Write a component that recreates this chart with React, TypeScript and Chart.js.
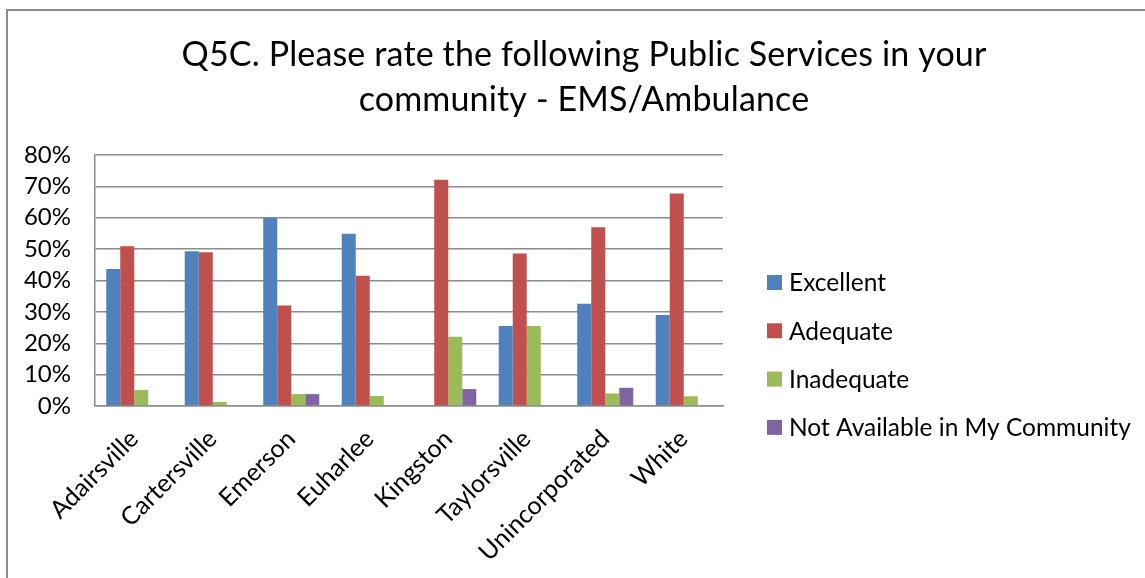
import React, { useEffect, useRef } from "react";
import { Chart, registerables } from "chart.js";

Chart.register(...registerables);

const FONT = "Lato, 'Open Sans', sans-serif";

const categories = [
  "Adairsville",
  "Cartersville",
  "Emerson",
  "Euharlee",
  "Kingston",
  "Taylorsville",
  "Unincorporated",
  "White",
];
const seriesNames = ["Excellent", "Adequate", "Inadequate", "Not Available in My Community"];
const excellent = [43.7, 49.3, 59.9, 54.9, 0, 25.5, 32.6, 29.0];
const adequate = [50.9, 49.0, 32.0, 41.5, 72.1, 48.6, 57.0, 67.7];
const inadequate = [5.1, 1.3, 3.8, 3.2, 22.1, 25.5, 4.0, 3.1];
const notAvailable = [0, 0, 3.8, 0, 5.4, 0, 5.8, 0];
const seriesColors = ["#4F81BD", "#C0504D", "#9BBB59", "#8064A2"];
const yMax = 80;
const yStep = 10;
const titleLines = [
  "Q5C. Please rate the following Public Services in your",
  "community - EMS/Ambulance",
];

const sideTitle = {
  id: "sideTitle",
  afterDraw(_chart: any, _args: any, opts: any) {
    const ctx = _chart.ctx;
    ctx.save();
    ctx.font = `${opts.size}px ${FONT}`;
    ctx.fillStyle = "#000";
    ctx.textAlign = "center";
    ctx.textBaseline = "middle";
    (ctx as any).letterSpacing = opts.spacing;
    opts.lines.forEach((line: string, i: number) => {
      ctx.fillText(line, opts.x, opts.top + i * opts.lineGap);
    });
    ctx.restore();
  },
};

const sideLegend = {
  id: "sideLegend",
  afterDraw(chart: any, _args: any, opts: any) {
    const ctx = chart.ctx;
    ctx.save();
    ctx.font = `${opts.size}px ${FONT}`;
    ctx.textBaseline = "middle";
    ctx.textAlign = "left";
    chart.data.datasets.forEach((ds: any, i: number) => {
      const y = opts.top + i * opts.spacing;
      ctx.fillStyle = ds.backgroundColor;
      ctx.fillRect(opts.x, y - 7.5, 15, 15);
      ctx.fillStyle = "#000";
      ctx.fillText(ds.label, opts.x + 22, y + 1);
    });
    ctx.restore();
  },
};

export default function App() {
  const ref = useRef<HTMLCanvasElement>(null);

  useEffect(() => {
    if (!ref.current) return;
    const values = [excellent, adequate, inadequate, notAvailable];
    const chart = new Chart(ref.current, {
      type: "bar",
      data: {
        labels: categories,
        datasets: values.map((v, i) => ({
          label: seriesNames[i],
          data: v,
          backgroundColor: seriesColors[i],
          borderWidth: 0,
          categoryPercentage: 0.714,
          barPercentage: 1,
        })),
      },
      options: {
        responsive: false,
        devicePixelRatio: 1,
        animation: false,
        layout: { padding: { left: 0, right: 422, top: 155, bottom: 0 } },
        plugins: {
          legend: { display: false },
          tooltip: { enabled: false },
          title: { display: false },
          sideTitle: { x: 584, top: 55, lineGap: 45, size: 34, spacing: "0.15px", lines: titleLines },
          sideLegend: { x: 767, top: 282.5, spacing: 48.3, size: 24.5 },
        } as any,
        scales: {
          x: {
            grid: { display: false, drawTicks: false },
            border: { display: true, color: "#8c8c8c", width: 1.5 },
            ticks: {
              color: "#000",
              font: { family: FONT, size: 25 },
              minRotation: 45,
              maxRotation: 45,
              autoSkip: false,
              padding: 18,
            },
            afterFit: (s: any) => {
              s.height = 172;
            },
          },
          y: {
            min: 0,
            max: yMax,
            grid: { color: "#8c8c8c", lineWidth: 1.5, drawTicks: false },
            border: { display: true, color: "#8c8c8c", width: 1.5 },
            ticks: {
              stepSize: yStep,
              autoSkip: false,
              color: "#000",
              font: { family: FONT, size: 24 },
              padding: 24,
              callback: (v: any) => `${v}%`,
            },
            afterFit: (s: any) => {
              s.width = 95;
            },
          },
        },
      },
      plugins: [sideTitle, sideLegend],
    });
    return () => chart.destroy();
  }, []);

  return (
    <div
      style={{
        position: "fixed",
        left: 0,
        top: 0,
        width: 1145,
        height: 578,
        overflow: "hidden",
        background: "#fff",
      }}
    >
      <div
        style={{
          position: "absolute",
          left: 6,
          top: 9,
          width: 1200,
          height: 700,
          border: "2px solid #8c8c8c",
        }}
      />
      <canvas
        ref={ref}
        width={1145}
        height={578}
        style={{ position: "absolute", left: 0, top: 0, width: 1145, height: 578 }}
      />
    </div>
  );
}
